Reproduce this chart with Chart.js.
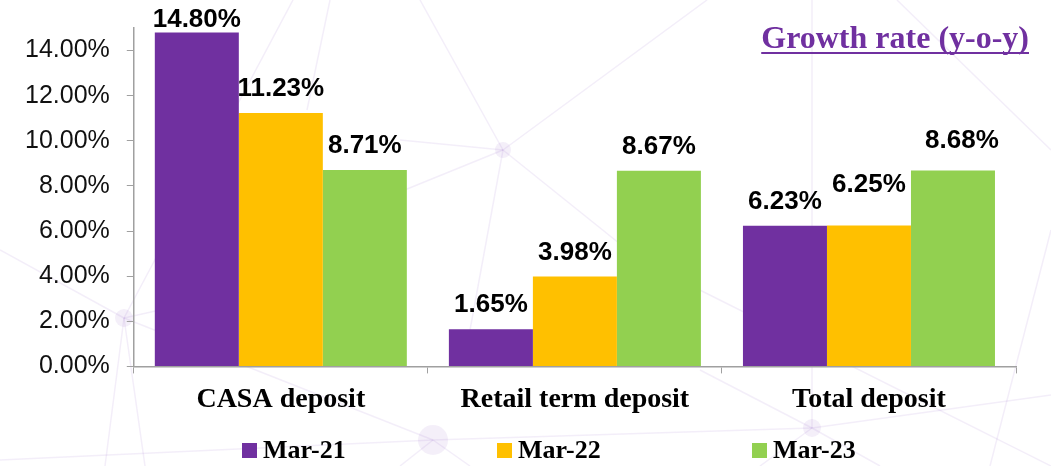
<!DOCTYPE html>
<html>
<head>
<meta charset="utf-8">
<script src="https://cdn.jsdelivr.net/npm/chart.js@4"></script>
<style>
  html, body { margin: 0; padding: 0; background: #fff; }
  #wrap { width: 1051px; height: 466px; position: relative; }
</style>
</head>
<body>
<div id="wrap"><canvas id="growth" width="1051" height="466"></canvas></div>
<script>
const categories = ['CASA deposit', 'Retail term deposit', 'Total deposit'];
const seriesNames = ['Mar-21', 'Mar-22', 'Mar-23'];
const mar21 = [14.80, 1.65, 6.23];
const mar22 = [11.23, 3.98, 6.25];
const mar23 = [8.71, 8.67, 8.68];
const yTicks = [0, 2, 4, 6, 8, 10, 12, 14];
const yMax = 15;

const colors = ['#7030A0', '#FFC000', '#92D050'];
const serif = "'Book Antiqua', Palatino, 'Liberation Serif', serif";
const sans = "Arial, 'Liberation Sans', sans-serif";

// faint network pattern behind the chart
const netNodes = [[503, 150, 8], [124, 318, 9], [433, 440, 15], [812, 428, 9]];
const netLines = [
    [503, 150, 420, 0], [503, 150, 707, 0], [503, 150, 400, 140], [503, 150, 380, 200],
    [503, 150, 470, 330], [503, 150, 640, 260], [640, 260, 1051, 466],
    [124, 318, 293, 0], [124, 318, 0, 250], [124, 318, 105, 466], [124, 318, 145, 466],
    [124, 318, 433, 440], [124, 318, 250, 290],
    [433, 440, 400, 466], [433, 440, 812, 428], [433, 440, 470, 466], [433, 440, 0, 460],
    [812, 428, 812, 0], [812, 428, 1051, 395], [812, 428, 760, 466], [812, 428, 880, 466],
    [812, 428, 700, 370], [897, 0, 1051, 150], [330, 0, 307, 110], [1051, 230, 990, 466]
];

const backdrop = {
    id: 'backdrop',
    beforeDraw(chart) {
        const ctx = chart.ctx;
        ctx.save();
        ctx.fillStyle = '#ffffff';
        ctx.fillRect(0, 0, chart.width, chart.height);
        ctx.strokeStyle = 'rgba(150, 100, 200, 0.11)';
        ctx.lineWidth = 1.5;
        netLines.forEach(l => {
            ctx.beginPath();
            ctx.moveTo(l[0], l[1]);
            ctx.lineTo(l[2], l[3]);
            ctx.stroke();
        });
        ctx.fillStyle = 'rgba(150, 100, 200, 0.10)';
        netNodes.forEach(n => {
            ctx.beginPath();
            ctx.arc(n[0], n[1], n[2], 0, Math.PI * 2);
            ctx.fill();
        });
        ctx.restore();
    }
};

// value labels over each bar
const barValues = {
    id: 'barValues',
    afterDatasetsDraw(chart, args, opts) {
        const ctx = chart.ctx;
        ctx.save();
        ctx.font = 'bold 26px ' + sans;
        ctx.fillStyle = '#000';
        ctx.textAlign = 'center';
        ctx.textBaseline = 'alphabetic';
        chart.data.datasets.forEach((ds, di) => {
            const meta = chart.getDatasetMeta(di);
            meta.data.forEach((bar, i) => {
                const nudge = opts.nudge[i + '-' + di] || [0, 0];
                let y = bar.y - opts.gap + nudge[1];
                y = Math.max(y, opts.minY);
                ctx.fillText(ds.data[i].toFixed(2) + '%', bar.x + nudge[0], y);
            });
        });
        ctx.restore();
    }
};

const heading = {
    id: 'heading',
    afterDraw(chart, args, opts) {
        const ctx = chart.ctx;
        ctx.save();
        ctx.font = 'bold 32px ' + serif;
        ctx.fillStyle = opts.color;
        ctx.textAlign = 'right';
        ctx.textBaseline = 'alphabetic';
        ctx.fillText(opts.text, opts.x, opts.y);
        const w = ctx.measureText(opts.text).width;
        ctx.fillRect(opts.x - w, opts.y + 4, w, 2);
        ctx.restore();
    }
};

const keyRow = {
    id: 'keyRow',
    afterDraw(chart, args, opts) {
        const ctx = chart.ctx;
        ctx.save();
        ctx.font = 'bold 26px ' + serif;
        ctx.textAlign = 'left';
        ctx.textBaseline = 'alphabetic';
        chart.data.datasets.forEach((ds, i) => {
            const x = opts.x + i * opts.step;
            ctx.fillStyle = ds.backgroundColor;
            ctx.fillRect(x, opts.y - 15, 15, 15);
            ctx.fillStyle = '#000';
            ctx.fillText(ds.label, x + 21, opts.y);
        });
        ctx.restore();
    }
};

const axisGrey = '#a0a0a0';

new Chart(document.getElementById('growth'), {
    type: 'bar',
    data: {
        labels: categories,
        datasets: [mar21, mar22, mar23].map((vals, i) => ({
            label: seriesNames[i],
            data: vals,
            backgroundColor: colors[i],
            borderWidth: 0,
            categoryPercentage: 0.857,
            barPercentage: 1.0
        }))
    },
    options: {
        responsive: false,
        devicePixelRatio: 1,
        animation: false,
        layout: { padding: { top: 28, left: 8, right: 35, bottom: 39 } },
        plugins: {
            legend: { display: false },
            tooltip: { enabled: false },
            barValues: { gap: 17, minY: 27, nudge: { '2-1': [0, -16], '2-2': [9, -6] } },
            heading: { text: 'Growth rate (y-o-y)', x: 1029, y: 48, color: '#7030A0' },
            keyRow: { x: 242, step: 255, y: 458 }
        },
        scales: {
            x: {
                grid: { display: true, drawOnChartArea: false, offset: true, tickLength: 7, color: axisGrey },
                border: { display: true, color: axisGrey, width: 1.5 },
                ticks: { color: '#000', padding: 10, font: { family: serif, size: 28, weight: 'bold' } }
            },
            y: {
                min: 0,
                max: yMax,
                afterBuildTicks: scale => {
                    scale.ticks = yTicks.map(v => ({ value: v }));
                },
                grid: { display: true, drawOnChartArea: false, tickLength: 7, color: axisGrey },
                border: { display: true, color: axisGrey, width: 1.5 },
                ticks: {
                    color: '#111',
                    padding: 17,
                    font: { family: sans, size: 25, lineHeight: 0.8 },
                    callback: v => v.toFixed(2) + '%'
                }
            }
        }
    },
    plugins: [backdrop, barValues, heading, keyRow]
});
</script>
</body>
</html>
